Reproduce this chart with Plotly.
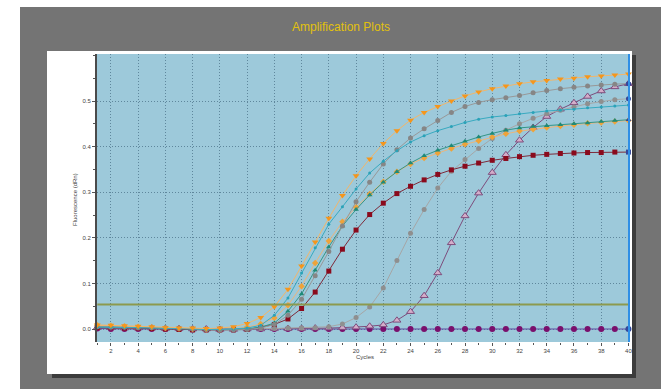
import plotly.graph_objects as go

cycles = list(range(1, 41))

orange_top = [0.009, 0.008, 0.007, 0.006, 0.005, 0.003, 0.002, 0.002, 0.001, 0.002,
              0.005, 0.012, 0.025, 0.049, 0.087, 0.138, 0.191, 0.243, 0.293, 0.336,
              0.373, 0.407, 0.435, 0.458, 0.475, 0.488, 0.500, 0.511, 0.520, 0.527,
              0.533, 0.538, 0.542, 0.545, 0.548, 0.550, 0.553, 0.555, 0.557, 0.559]
orange_low = [0.008, 0.007, 0.006, 0.005, 0.004, 0.002, 0.001, 0.000, -0.001, -0.001,
              0.000, 0.004, 0.011, 0.024, 0.052, 0.094, 0.145, 0.193, 0.235, 0.267,
              0.296, 0.323, 0.345, 0.362, 0.375, 0.386, 0.396, 0.405, 0.413, 0.421,
              0.428, 0.434, 0.438, 0.442, 0.445, 0.448, 0.451, 0.453, 0.455, 0.457]
teal_tri = [0.005, 0.004, 0.004, 0.003, 0.003, 0.002, 0.001, 0.000, -0.001, -0.001,
            -0.001, 0.000, 0.004, 0.013, 0.039, 0.077, 0.129, 0.180, 0.226, 0.262,
            0.294, 0.322, 0.345, 0.364, 0.380, 0.392, 0.402, 0.412, 0.421, 0.429,
            0.436, 0.441, 0.444, 0.446, 0.448, 0.450, 0.452, 0.455, 0.457, 0.459]
cyan_dot = [0.004, 0.004, 0.003, 0.003, 0.002, 0.001, 0.001, 0.000, -0.001, -0.001,
            0.000, 0.002, 0.008, 0.030, 0.068, 0.123, 0.178, 0.230, 0.268, 0.307,
            0.342, 0.368, 0.391, 0.410, 0.424, 0.435, 0.444, 0.453, 0.460, 0.465,
            0.468, 0.472, 0.475, 0.478, 0.480, 0.482, 0.485, 0.487, 0.489, 0.491]
grey_top = [0.005, 0.004, 0.004, 0.003, 0.003, 0.002, 0.001, 0.000, -0.001, -0.002,
            -0.002, -0.001, 0.002, 0.010, 0.030, 0.065, 0.117, 0.170, 0.226, 0.279,
            0.322, 0.362, 0.393, 0.419, 0.439, 0.457, 0.475, 0.488, 0.497, 0.503,
            0.507, 0.512, 0.518, 0.523, 0.527, 0.530, 0.533, 0.535, 0.537, 0.538]
grey_late = [0.004, 0.003, 0.003, 0.002, 0.002, 0.001, 0.000, 0.000, -0.001, -0.001,
             0.000, 0.000, 0.001, 0.001, 0.002, 0.002, 0.003, 0.005, 0.011, 0.025,
             0.048, 0.090, 0.150, 0.210, 0.262, 0.309, 0.346, 0.372, 0.396, 0.418,
             0.436, 0.450, 0.462, 0.472, 0.480, 0.487, 0.494, 0.499, 0.503, 0.505]
red_square = [0.003, 0.003, 0.002, 0.002, 0.001, 0.000, -0.001, -0.002, -0.002, -0.002,
              -0.002, -0.001, 0.004, 0.010, 0.022, 0.045, 0.081, 0.127, 0.175, 0.217,
              0.251, 0.276, 0.297, 0.313, 0.327, 0.339, 0.349, 0.357, 0.364, 0.370,
              0.374, 0.378, 0.381, 0.383, 0.385, 0.386, 0.387, 0.387, 0.388, 0.388]
purple_tri = [0.003, 0.003, 0.002, 0.002, 0.002, 0.001, 0.001, 0.000, 0.000, -0.001,
              -0.001, 0.000, 0.000, 0.001, 0.001, 0.001, 0.002, 0.002, 0.003, 0.004,
              0.006, 0.009, 0.019, 0.038, 0.073, 0.123, 0.189, 0.248, 0.298, 0.343,
              0.382, 0.414, 0.442, 0.466, 0.482, 0.496, 0.510, 0.522, 0.531, 0.538]
flat_ntc = [0.001, 0.000, 0.000, 0.000, 0.000, 0.000, 0.000, -0.001, -0.001, -0.001,
            -0.001, 0.000, 0.000, 0.000, 0.000, 0.000, 0.000, 0.000, 0.000, 0.000,
            0.000, 0.000, 0.000, 0.000, 0.000, 0.000, 0.000, 0.000, 0.000, 0.000,
            0.000, 0.000, 0.000, 0.000, 0.000, 0.000, 0.000, 0.000, 0.000, 0.000]
threshold = 0.054

x_ticks = list(range(2, 41, 2))
y_ticks = [0.0, 0.1, 0.2, 0.3, 0.4, 0.5]
y_tick_text = ["0.0", "0.1", "0.2", "0.3", "0.4", "0.5"]

# ---- layout geometry (pixels) ----
W, H = 661, 389
PL, PR, PT, PB = 97, 629, 54, 342


def px(x):
    return (x - PL) / (PR - PL)


def py(y):
    return (PB - y) / (PB - PT)


END_BLUE = "#34489a"

series = [
    # data, line colour, marker fill, marker outline, symbol, size, blue end
    (flat_ntc, "#5c4aa0", "#7a0f6c", None, "circle", 6, True),
    (purple_tri, "#7d4c7c", "#d4adc9", "#7d4c7c", "triangle-up", 7, True),
    (grey_late, "#a6a6a6", "#8f8f8f", None, "circle", 5, True),
    (red_square, "#7e2a3a", "#8a0a1c", None, "square", 5, True),
    (orange_low, "#ebb57c", "#eea33a", None, "diamond", 5, False),
    (teal_tri, "#359686", "#1f8a78", None, "triangle-up", 5, True),
    (grey_top, "#989898", "#868686", None, "circle", 5, True),
    (cyan_dot, "#38aac0", "#2aa2b8", None, "circle", 3, False),
    (orange_top, "#f2b66a", "#f5961c", None, "triangle-down", 6, False),
]

fig = go.Figure()

for data, lc, mc, outline, sym, size, blue_end in series:
    colors = [mc] * len(data)
    if blue_end:
        colors[-1] = END_BLUE
    mline = dict(width=1, color=outline) if outline else dict(width=0)
    fig.add_trace(go.Scatter(
        x=cycles, y=data, mode="lines+markers",
        line=dict(color=lc, width=1),
        marker=dict(symbol=sym, size=size, color=colors, line=mline),
        cliponaxis=False, showlegend=False, hoverinfo="skip",
    ))

fig.add_trace(go.Scatter(
    x=[cycles[0], cycles[-1]], y=[threshold, threshold], mode="lines",
    line=dict(color="#8c9a4e", width=2), showlegend=False, hoverinfo="skip",
))

shapes = [
    # dark grey frame
    dict(type="rect", xref="paper", yref="paper", x0=px(20), x1=px(W + 5),
         y0=py(7), y1=py(H + 5), fillcolor="#747474", line=dict(width=0), layer="below"),
    # card shadow
    dict(type="rect", xref="paper", yref="paper", x0=px(52), x1=px(636),
         y0=py(55), y1=py(378), fillcolor="#3c3c3c", line=dict(width=0), layer="below"),
    # white card
    dict(type="rect", xref="paper", yref="paper", x0=px(47), x1=px(632),
         y0=py(51), y1=py(374), fillcolor="#ffffff", line=dict(width=0), layer="below"),
    # plot background
    dict(type="rect", xref="paper", yref="paper", x0=0, x1=1, y0=0, y1=1,
         fillcolor="#9dc9da", line=dict(width=0), layer="below"),
    # right edge blue line
    dict(type="line", xref="paper", yref="paper", x0=1, x1=1, y0=0, y1=1,
         line=dict(color="#2f8fe6", width=2)),
]

GRID = "#5f879c"

fig.update_layout(
    width=W, height=H,
    margin=dict(l=PL, r=W - PR, t=PT, b=H - PB, pad=0),
    paper_bgcolor="#ffffff",
    plot_bgcolor="rgba(0,0,0,0)",
    showlegend=False,
    shapes=shapes,
    font=dict(family="Arial, Liberation Sans, sans-serif", size=6, color="#333333"),
    xaxis=dict(
        range=[0.98, 40.04], tickvals=x_ticks, ticks="outside", ticklen=3,
        tickcolor="#555555", tickfont=dict(size=6, color="#444444"),
        showgrid=True, gridcolor=GRID, griddash="1px,2px", gridwidth=1,
        zeroline=False, showline=False, automargin=False,
        minor=dict(dtick=1, tick0=1, ticks="outside", ticklen=2, tickcolor="#555555",
                   showgrid=False),
    ),
    yaxis=dict(
        range=[-0.0285, 0.6031], tickvals=y_ticks, ticktext=y_tick_text,
        ticks="outside", ticklen=3, tickcolor="#555555",
        tickfont=dict(size=6, color="#444444"),
        showgrid=True, gridcolor=GRID, griddash="1px,2px", gridwidth=1,
        zeroline=False, showline=True, linecolor="#4a4a4a", linewidth=2,
        automargin=False,
        minor=dict(dtick=0.05, tick0=0, ticks="outside", ticklen=2, tickcolor="#555555",
                   showgrid=False),
    ),
    annotations=[
        dict(text="Amplification Plots", xref="paper", yref="paper",
             x=px(341), y=py(27), showarrow=False, xanchor="center", yanchor="middle",
             font=dict(size=12, color="#e2c10e", family="Arial, Liberation Sans, sans-serif")),
        dict(text="Fluorescence (dRn)", xref="paper", yref="paper",
             x=px(75), y=py(200), showarrow=False, textangle=-90,
             xanchor="center", yanchor="middle", font=dict(size=6, color="#444444")),
        dict(text="Cycles", xref="paper", yref="paper",
             x=px(365), y=py(357), showarrow=False, xanchor="center", yanchor="middle",
             font=dict(size=6, color="#444444")),
    ],
)

fig.write_html("out.html")
